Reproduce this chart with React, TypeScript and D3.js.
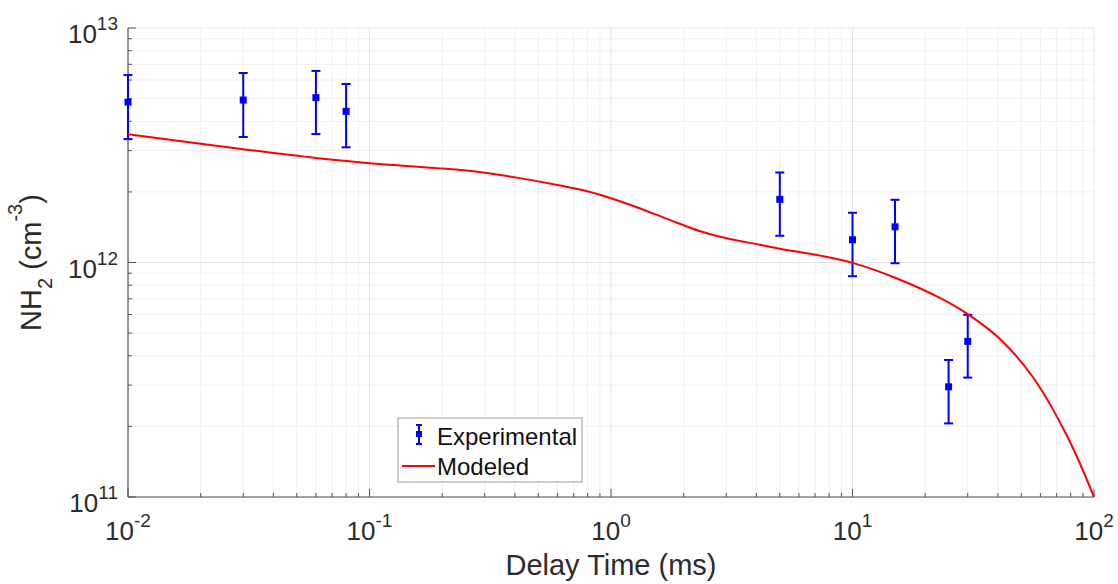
import React from 'react';
import * as d3 from 'd3';

// Experimental data (delay time in ms, NH2 in cm^-3)
const expTime = [0.01, 0.03, 0.06, 0.08, 5, 10, 15, 25, 30];
const expValue = [4.83e12, 4.93e12, 5.05e12, 4.41e12, 1.86e12, 1.25e12, 1.42e12, 2.95e11, 4.61e11];
const expUpper = [6.3e12, 6.43e12, 6.56e12, 5.77e12, 2.42e12, 1.63e12, 1.85e12, 3.84e11, 5.98e11];
const expLower = [3.36e12, 3.43e12, 3.53e12, 3.1e12, 1.3e12, 8.74e11, 9.93e11, 2.06e11, 3.23e11];

// Modeled curve
const modelTime = [0.01, 0.03, 0.06, 0.1, 0.196, 0.295, 0.42, 0.615, 0.819, 1.0, 1.32, 1.75, 2.34, 3.11, 4.14, 5.1, 7.33, 10, 15.1, 23.0, 30.3, 40.8, 55.8, 78, 100];
const modelValue = [3.52e12, 3.04e12, 2.79e12, 2.65e12, 2.52e12, 2.42e12, 2.29e12, 2.13e12, 2.0e12, 1.88e12, 1.7e12, 1.52e12, 1.36e12, 1.26e12, 1.19e12, 1.14e12, 1.07e12, 9.96e11, 8.59e11, 7.06e11, 5.98e11, 4.72e11, 3.25e11, 1.79e11, 1.0e11];

const xTickExps = [-2, -1, 0, 1, 2];
const yTickExps = [11, 12, 13];

const W = 1118;
const H = 584;
const M = { left: 128, right: 24, top: 28, bottom: 87 };
const FONT = '"Liberation Sans", Arial, Helvetica, sans-serif';

export default function App() {
  const x = d3.scaleLog().domain([1e-2, 1e2]).range([M.left, W - M.right]);
  const y = d3.scaleLog().domain([1e11, 1e13]).range([H - M.bottom, M.top]);
  const x0 = M.left, x1 = W - M.right, y0 = H - M.bottom, y1 = M.top;

  const xMinor: number[] = [];
  for (let e = -2; e < 2; e++) for (let k = 2; k <= 9; k++) xMinor.push(k * Math.pow(10, e));
  const yMinor: number[] = [];
  for (let e = 11; e < 13; e++) for (let k = 2; k <= 9; k++) yMinor.push(k * Math.pow(10, e));

  const line = d3
    .line<number>()
    .x((_, i) => x(modelTime[i]))
    .y((_, i) => y(modelValue[i]))
    .curve(d3.curveCatmullRom.alpha(0.5));

  const axisColor = '#555';
  const textColor = '#2b2b2b';
  const blue = '#0000ff';
  const red = '#ff0000';
  const capW = 4.5;

  return (
    <svg width={W} height={H} style={{ position: 'absolute', left: 0, top: 0, background: '#fff' }} fontFamily={FONT}>
      <rect x={0} y={0} width={W} height={H} fill="#fff" />
      {/* grid */}
      {xMinor.map((v, i) => (
        <line key={'gxm' + i} x1={x(v)} x2={x(v)} y1={y0} y2={y1} stroke="#f0f0f0" strokeWidth={1} />
      ))}
      {yMinor.map((v, i) => (
        <line key={'gym' + i} x1={x0} x2={x1} y1={y(v)} y2={y(v)} stroke="#f0f0f0" strokeWidth={1} />
      ))}
      {xTickExps.map((e) => (
        <line key={'gx' + e} x1={x(Math.pow(10, e))} x2={x(Math.pow(10, e))} y1={y0} y2={y1} stroke="#e4e4e4" strokeWidth={1} />
      ))}
      {yTickExps.map((e) => (
        <line key={'gy' + e} x1={x0} x2={x1} y1={y(Math.pow(10, e))} y2={y(Math.pow(10, e))} stroke="#e4e4e4" strokeWidth={1} />
      ))}

      {/* axes */}
      <line x1={x0} x2={x1} y1={y0} y2={y0} stroke={axisColor} strokeWidth={1.2} />
      <line x1={x0} x2={x0} y1={y0} y2={y1} stroke={axisColor} strokeWidth={1.2} />
      {xMinor.map((v, i) => (
        <line key={'txm' + i} x1={x(v)} x2={x(v)} y1={y0} y2={y0 - 4} stroke={axisColor} strokeWidth={1} />
      ))}
      {yMinor.map((v, i) => (
        <line key={'tym' + i} x1={x0} x2={x0 + 4} y1={y(v)} y2={y(v)} stroke={axisColor} strokeWidth={1} />
      ))}
      {xTickExps.map((e) => (
        <line key={'tx' + e} x1={x(Math.pow(10, e))} x2={x(Math.pow(10, e))} y1={y0} y2={y0 - 8} stroke={axisColor} strokeWidth={1} />
      ))}
      {yTickExps.map((e) => (
        <line key={'ty' + e} x1={x0} x2={x0 + 8} y1={y(Math.pow(10, e))} y2={y(Math.pow(10, e))} stroke={axisColor} strokeWidth={1} />
      ))}

      {/* tick labels */}
      {xTickExps.map((e) => (
        <text key={'lx' + e} x={x(Math.pow(10, e))} y={y0 + 43} textAnchor="middle" fontSize={26} fill={textColor}>
          <tspan>10</tspan>
          <tspan dy={-13} fontSize={19}>{String(e)}</tspan>
        </text>
      ))}
      {yTickExps.map((e) => (
        <text key={'ly' + e} x={x0 - 10} y={y(Math.pow(10, e)) + 15} textAnchor="end" fontSize={26} fill={textColor}>
          <tspan>10</tspan>
          <tspan dy={-13} fontSize={19}>{String(e)}</tspan>
        </text>
      ))}

      {/* axis titles */}
      <text x={(x0 + x1) / 2} y={575} textAnchor="middle" fontSize={29} fill={textColor}>
        Delay Time (ms)
      </text>
      <text transform={`translate(41, ${(y0 + y1) / 2}) rotate(-90)`} textAnchor="middle" fontSize={29} fill={textColor}>
        <tspan>NH</tspan>
        <tspan dy={11} fontSize={20}>2</tspan>
        <tspan dy={-11}> (cm</tspan>
        <tspan dy={-19} fontSize={20}>-3</tspan>
        <tspan dy={19}>)</tspan>
      </text>

      {/* experimental error bars */}
      {expTime.map((t, i) => {
        const cx = x(t);
        return (
          <g key={'e' + i} stroke={blue} strokeWidth={2}>
            <line x1={cx} x2={cx} y1={y(expUpper[i])} y2={y(expLower[i])} />
            <line x1={cx - capW} x2={cx + capW} y1={y(expUpper[i])} y2={y(expUpper[i])} />
            <line x1={cx - capW} x2={cx + capW} y1={y(expLower[i])} y2={y(expLower[i])} />
            <rect x={cx - 3.5} y={y(expValue[i]) - 3.5} width={7} height={7} fill={blue} stroke="none" />
          </g>
        );
      })}

      {/* modeled line */}
      <path d={line(modelTime) || ''} fill="none" stroke={red} strokeWidth={2} />

      {/* legend */}
      <rect x={398} y={418} width={184} height={64} fill="#fff" stroke="#999" strokeWidth={1} />
      <g stroke={blue} strokeWidth={2}>
        <line x1={419} x2={419} y1={425} y2={444} />
        <line x1={416} x2={422} y1={425} y2={425} />
        <line x1={416} x2={422} y1={444} y2={444} />
        <rect x={416} y={431} width={6} height={6} fill={blue} stroke="none" />
      </g>
      <text x={437} y={445} fontSize={24} fill="#111">Experimental</text>
      <line x1={402} x2={435} y1={466} y2={466} stroke={red} strokeWidth={2} />
      <text x={437} y={475} fontSize={24} fill="#111">Modeled</text>
    </svg>
  );
}
